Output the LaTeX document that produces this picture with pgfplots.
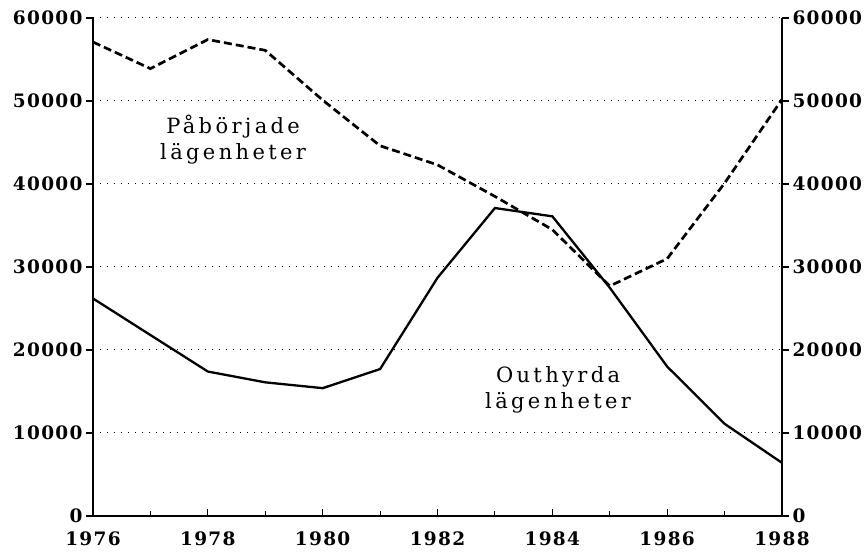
\documentclass[border=0pt]{standalone}
\usepackage{fontspec}
\setmainfont{DejaVu Serif}
\newfontfamily\lblfont[LetterSpace=16]{DejaVu Serif}
\newfontfamily\tickfont[LetterSpace=7]{DejaVu Serif}
\usepackage{pgfplots}
\pgfplotsset{compat=1.18}
\begin{document}
\begin{tikzpicture}
\pgfplotsset{common/.style={
  scale only axis, width=689bp, height=498bp,
  xmin=1976, xmax=1988, ymin=0, ymax=60000,
  ytick={0,10000,...,60000}, scaled y ticks=false,
  /pgf/number format/assume math mode=true,
  /pgf/number format/set thousands separator={},
  ticklabel style={font=\tickfont\fontsize{18.5bp}{20bp}\selectfont\bfseries},
  tick style={black, line width=1.1bp},
  major tick length=7bp, minor tick length=5bp,
  axis line style={-, line width=1.3bp},
}}
\begin{axis}[common,
  axis x line*=bottom, axis y line*=left,
  xtick={1976,1978,...,1988}, minor xtick={1977,1979,...,1987},
  xtick align=inside, ytick align=outside,
  xticklabel style={yshift=-12bp},
  ymajorgrids, grid style={black, line width=1bp, dash pattern=on 1bp off 6bp},
  clip=false]
\addplot[black, line width=2.7bp, dash pattern=on 8bp off 4bp] coordinates {
 (1976,57100) (1977,53900) (1978,57400) (1979,56100) (1980,50100) (1981,44600)
 (1982,42300) (1983,38500) (1984,34500) (1985,27700) (1986,31000) (1987,40100) (1988,50200)};
\addplot[black, line width=2.3bp] coordinates {
 (1976,26200) (1977,21800) (1978,17400) (1979,16100) (1980,15400) (1981,17700)
 (1982,28700) (1983,37100) (1984,36100) (1985,27500) (1986,18000) (1987,11100) (1988,6400)};
\node[align=center, font=\lblfont\fontsize{21bp}{26bp}\selectfont] at (axis cs:1978.44,45300) {Påbörjade\\lägenheter};
\node[align=center, font=\lblfont\fontsize{21bp}{26bp}\selectfont] at (axis cs:1984.1,15200) {Outhyrda\\lägenheter};
\path (rel axis cs:-0.135,-0.0723) rectangle (rel axis cs:1.1248,1.0361);
\end{axis}
\begin{axis}[common,
  axis y line*=right, axis x line=none,
  xtick=\empty, ytick align=outside]
\end{axis}
\end{tikzpicture}
\end{document}
